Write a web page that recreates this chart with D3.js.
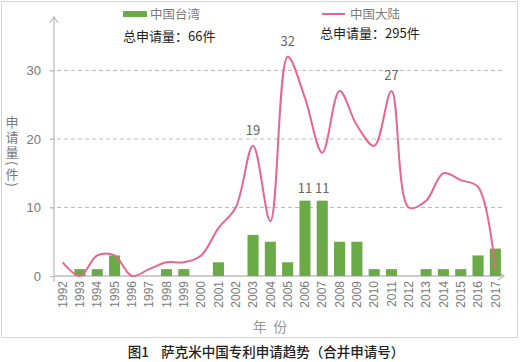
<!DOCTYPE html>
<html>
<head>
<meta charset="utf-8">
<script src="https://cdn.jsdelivr.net/npm/d3@7"></script>
<style>
    body { margin: 0; background: #fff; }
    svg { font-family: "Noto Sans CJK SC", "Noto Sans", sans-serif; }
</style>
</head>
<body>
<div id="chart"></div>
<script>
// data
let years = ['1992', '1993', '1994', '1995', '1996', '1997', '1998', '1999', '2000', '2001', '2002', '2003', '2004',
    '2005', '2006', '2007', '2008', '2009', '2010', '2011', '2012', '2013', '2014', '2015', '2016', '2017']
let taiwan = [0, 1, 1, 3, 0, 0, 1, 1, 0, 2, 0, 6, 5, 2, 11, 11, 5, 5, 1, 1, 0, 1, 1, 1, 3, 4]
let mainland = [2, 0, 3, 3, 0, 1, 2, 2, 3, 7, 10, 19, 8, 32, 26, 18, 27, 22, 19, 27, 10, 11, 15, 14, 13, 1]
let yTicks = [0, 10, 20, 30]
let taiwanLabels = ['2006', '2007']
let mainlandLabels = ['2003', '2005', '2011']

let svgWidth = 520
let svgHeight = 362

let axisColor = '#bdbdbd'
let textGray = '#7a7a7a'
let green = '#6aab47'
let pink = '#e9658f'

let svg = d3.select('#chart')
    .append('svg')
    .attr('width', svgWidth)
    .attr('height', svgHeight)

// frame
svg.append('rect')
    .attr('x', 1.5).attr('y', 1.5)
    .attr('width', 516).attr('height', 336)
    .attr('fill', 'none')
    .attr('stroke', '#d6d6d6')

let x = d3.scaleBand()
    .domain(years)
    .range([54, 504])
    .paddingInner(0.36)
    .paddingOuter(0.18)

let y = d3.scaleLinear()
    .domain([0, 30])
    .range([276, 70.5])

let cx = d => x(d) + x.bandwidth() / 2

// grid lines
svg.append('g')
    .selectAll('line')
    .data(yTicks.filter(t => t > 0))
    .enter()
    .append('line')
    .attr('x1', 50).attr('x2', 503)
    .attr('y1', d => y(d)).attr('y2', d => y(d))
    .attr('stroke', '#bcbcbc')
    .attr('stroke-dasharray', '4,3')

// y axis
let yAxis = svg.append('g')
    .attr('transform', 'translate(54,0)')
    .call(d3.axisLeft(y).tickValues(yTicks).tickSize(4).tickPadding(9))
yAxis.select('.domain').remove()
yAxis.selectAll('line').attr('stroke', axisColor)
yAxis.selectAll('text')
    .attr('fill', textGray)
    .style('font-size', '13px')

svg.append('line')
    .attr('x1', 54).attr('x2', 54)
    .attr('y1', 17).attr('y2', 282)
    .attr('stroke', axisColor).attr('stroke-width', 1.3)
svg.append('path')
    .attr('d', 'M50,23 L54,17 L58,23')
    .attr('fill', 'none').attr('stroke', axisColor).attr('stroke-width', 1.3)

// x axis
let xAxis = svg.append('g')
    .attr('transform', `translate(0, ${y(0)})`)
    .call(d3.axisBottom(x).tickSize(0).tickPadding(0))
xAxis.select('.domain').remove()
xAxis.selectAll('text')
    .attr('fill', textGray)
    .style('font-size', '12px')
    .attr('text-anchor', 'end')
    .attr('dy', '0.35em')
    .attr('transform', 'translate(0,5) rotate(-90)')
    .attr('x', 0).attr('y', 0)

svg.append('line')
    .attr('x1', 54).attr('x2', 504)
    .attr('y1', y(0)).attr('y2', y(0))
    .attr('stroke', axisColor).attr('stroke-width', 1.3)
svg.append('path')
    .attr('d', `M498,${y(0) - 4} L504,${y(0)} L498,${y(0) + 4}`)
    .attr('fill', 'none').attr('stroke', axisColor).attr('stroke-width', 1.3)

// bars
svg.append('g')
    .selectAll('rect')
    .data(years.map((d, i) => ({year: d, value: taiwan[i]})).filter(d => d.value > 0))
    .enter()
    .append('rect')
    .attr('x', d => x(d.year))
    .attr('y', d => y(d.value))
    .attr('width', x.bandwidth())
    .attr('height', d => y(0) - y(d.value))
    .attr('fill', green)

// line
let line = d3.line()
    .x(d => cx(d.year))
    .y(d => y(d.value))
    .curve(d3.curveCatmullRom.alpha(0.5))

svg.append('path')
    .datum(years.map((d, i) => ({year: d, value: mainland[i]})))
    .attr('d', line)
    .attr('fill', 'none')
    .attr('stroke', pink)
    .attr('stroke-width', 2)

// value labels
svg.append('g')
    .selectAll('text')
    .data(taiwanLabels)
    .enter()
    .append('text')
    .attr('x', d => cx(d))
    .attr('y', d => y(taiwan[years.indexOf(d)]) - 8)
    .attr('text-anchor', 'middle')
    .attr('fill', '#666')
    .style('font-size', '13px')
    .text(d => taiwan[years.indexOf(d)])

svg.append('g')
    .selectAll('text')
    .data(mainlandLabels)
    .enter()
    .append('text')
    .attr('x', d => cx(d))
    .attr('y', d => y(mainland[years.indexOf(d)]) - 11)
    .attr('text-anchor', 'middle')
    .attr('fill', '#666')
    .style('font-size', '13px')
    .text(d => mainland[years.indexOf(d)])

// legend
svg.append('rect')
    .attr('x', 123).attr('y', 11)
    .attr('width', 24).attr('height', 6)
    .attr('fill', green)
svg.append('text')
    .attr('x', 150).attr('y', 19)
    .attr('fill', textGray)
    .style('font-size', '12.5px')
    .text('中国台湾')
svg.append('line')
    .attr('x1', 322).attr('x2', 345)
    .attr('y1', 14).attr('y2', 14)
    .attr('stroke', pink).attr('stroke-width', 2)
svg.append('text')
    .attr('x', 350).attr('y', 19)
    .attr('fill', textGray)
    .style('font-size', '12.5px')
    .text('中国大陆')

svg.append('text')
    .attr('x', 123).attr('y', 41)
    .attr('fill', '#222')
    .style('font-size', '13px')
    .text('总申请量：66件')
svg.append('text')
    .attr('x', 320).attr('y', 38)
    .attr('fill', '#222')
    .style('font-size', '13px')
    .text('总申请量：295件')

// axis titles
svg.append('text')
    .attr('x', 12).attr('y', 116)
    .attr('fill', textGray)
    .style('font-size', '13px')
    .style('writing-mode', 'vertical-rl')
    .style('letter-spacing', '2px')
    .text('申请量(件)')

svg.append('text')
    .attr('x', 270).attr('y', 332)
    .attr('text-anchor', 'middle')
    .attr('fill', '#999')
    .style('font-size', '14px')
    .style('white-space', 'pre')
    .text('年  份')

// caption
svg.append('text')
    .attr('x', 266).attr('y', 357)
    .attr('text-anchor', 'middle')
    .attr('fill', '#222')
    .style('font-size', '13.5px')
    .style('font-weight', '500')
    .style('white-space', 'pre')
    .text('图1    萨克米中国专利申请趋势（合并申请号）')
</script>
</body>
</html>
